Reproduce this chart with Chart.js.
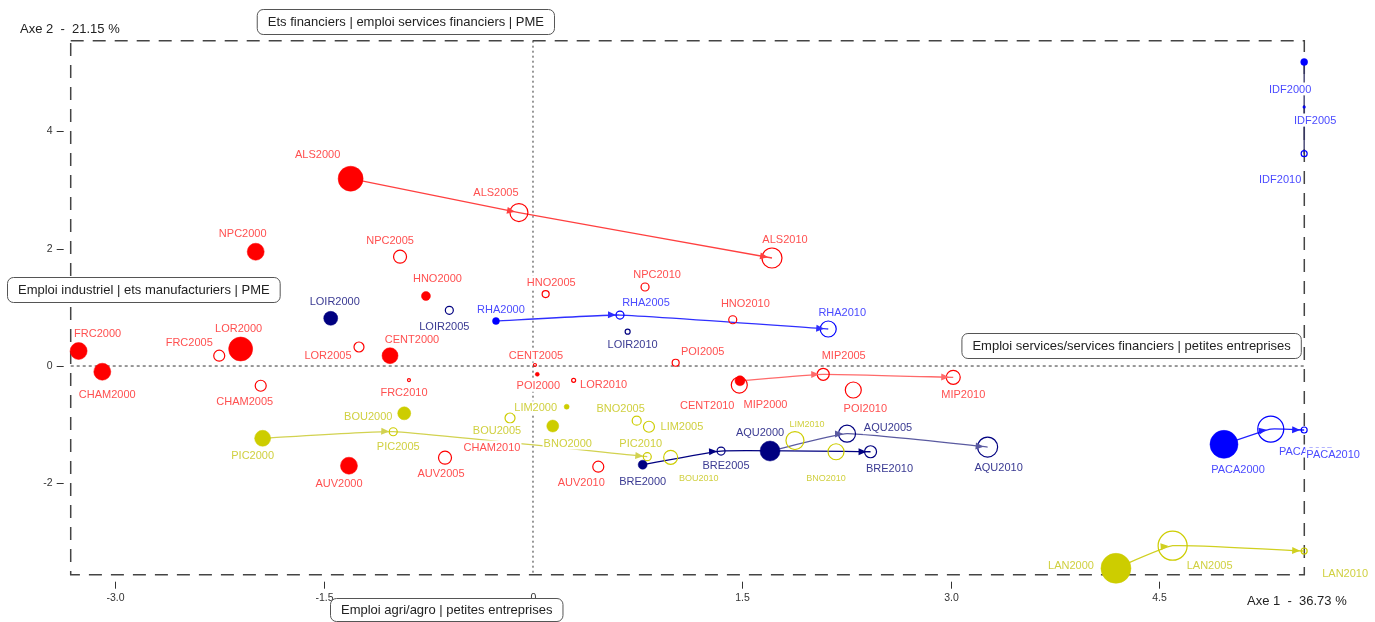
<!DOCTYPE html>
<html><head><meta charset="utf-8">
<script src="https://cdn.jsdelivr.net/npm/chart.js@4.4.1/dist/chart.umd.min.js"></script>
<style>html,body{margin:0;padding:0;background:#fff}#wrap{width:1375px;height:622px;position:relative}canvas{display:block}</style>
</head><body><div id="wrap"><canvas id="c" width="1375" height="622"></canvas></div>
<script>
// ---------- DATA ----------
const years = ['2000', '2005', '2010'];
const regions = ['ALS','NPC','HNO','FRC','LOR','CHAM','CENT','MIP','POI','AUV','IDF','RHA','PACA','LOIR','BRE','AQU','PIC','BOU','LIM','BNO','LAN'];
const groupOf = ['r','r','r','r','r','r','r','r','r','r','b','b','b','n','n','n','y','y','y','y','y'];
// Axe 1 coordinates (2000, 2005, 2010)
const axe1 = [
  [-1.310,-0.101,1.717],[-1.992,-0.955,0.805],[-0.769,0.091,1.435],[-3.264,-2.254,-0.891],
  [-2.100,-1.250,0.292],[-3.094,-1.956,-0.323],[-1.027,0.014,1.482],[1.487,2.085,3.019],
  [0.031,1.025,2.301],[-1.322,-0.632,0.469],[5.54,5.54,5.54],[-0.266,0.625,2.121],
  [4.964,5.300,5.54],[-1.453,-0.601,0.680],[0.788,1.351,2.425],[1.703,2.256,3.266],
  [-1.942,-1.004,0.821],[-0.925,-0.165,0.989],[0.242,0.833,1.882],[0.142,0.745,2.177],
  [4.188,4.595,5.54]
];
// Axe 2 coordinates (2000, 2005, 2010)
const axe2 = [
  [3.193,2.616,1.841],[1.948,1.863,1.347],[1.193,1.227,0.789],[0.256,0.176,-0.239],
  [0.290,0.324,-0.244],[-0.097,-0.336,-1.364],[0.176,0.017,-0.324],[-0.251,-0.141,-0.193],
  [-0.141,0.056,-0.409],[-1.699,-1.563,-1.716],[5.182,4.415,3.619],[0.767,0.869,0.631],
  [-1.335,-1.074,-1.091],[0.813,0.949,0.585],[-1.682,-1.449,-1.461],[-1.449,-1.154,-1.381],
  [-1.232,-1.120,-1.546],[-0.806,-0.886,-1.556],[-0.694,-1.035,-1.270],[-1.023,-0.932,-1.461],
  [-3.448,-3.063,-3.153]
];
// bubble weights (2000, 2005, 2010)
const poids = [
  [12.5,9,10],[8.5,6.5,4],[4.5,3.5,4],[8.5,5.5,1.5],[12,5,2],[8.5,5.5,1],[8,1.5,8],[5,6,7],
  [2,3.5,8],[8.5,6.5,5.5],[3.5,1,3],[3.5,4,8],[14,13,3],[7,4,2.5],[4.5,4,6],[10,8.5,10],
  [8,4,4],[6.5,5,7],[2.5,5.5,9],[6,4.5,8],[15,14.5,3]
];
const trajectories = ['ALS','MIP','RHA','PACA','IDF','BRE','AQU','PIC','LAN'];
const xTicks = [-3.0, -1.5, 0, 1.5, 3.0, 4.5];
const yTicks = [4, 2, 0, -2];
const axisTitleX = 'Axe 1  -  36.73 %';
const axisTitleY = 'Axe 2  -  21.15 %';
const boxTexts = [
  'Ets financiers | emploi services financiers | PME',
  'Emploi industriel | ets manufacturiers | PME',
  'Emploi services/services financiers | petites entreprises',
  'Emploi agri/agro | petites entreprises'
];

// ---------- STYLE / LAYOUT ----------
const pointColor = { r:'#FF0000', b:'#0000FF', n:'#000080', y:'#CDCD00' };
const labelColor = { r:'#FF5050', b:'#4B4BFF', n:'#3A3A92', y:'#D0D040' };
const lineColor = { ALS:'#FF4040', MIP:'#FF6A6A', RHA:'#2F2FFF', PACA:'#2020FF', IDF:'#333366',
                    BRE:'#000080', AQU:'#5A5AA0', PIC:'#D2D250', LAN:'#D0D020' };
const smallLabels = ['BOU2010','LIM2010','BNO2010'];
const labelOffsets = {
  ALS:[[-33,-24],[-23,-20],[13,-19]], NPC:[[-13,-18],[-10,-16],[12,-13]],
  HNO:[[11.5,-18],[5.6,-12],[12.6,-16.4]], FRC:[[19,-18],[-30,-13],[-5,12]],
  LOR:[[-2,-21],[-31,8],[30,4]], CHAM:[[5,23],[-16,16],[4,1]],
  CENT:[[22,-16],[1,-10],[-32,20]], MIP:[[25.5,24],[20.5,-19],[10,17]],
  POI:[[1,11],[27,-11],[12,18]], AUV:[[-10,18],[-4,16],[-17,16]],
  IDF:[[-14,27],[11,13],[-24,26]], RHA:[[5,-12],[26,-13],[14,-17]],
  PACA:[[14,25],[35,22],[29,24]], LOIR:[[4,-17],[-5,16],[5,13]],
  BRE:[[0,17],[5,14],[19,17]], AQU:[[-10,-19],[41,-6],[11,20]],
  PIC:[[-10,17],[5,15],[-6.5,-13]], BOU:[[-36,3],[-13,12],[28,21]],
  LIM:[[-31,1],[33,0],[12,-17]], BNO:[[15,17],[-16,-12],[-10,26]],
  LAN:[[-45,-3],[37,20],[41,22]]
};
const FONT = '"Liberation Sans", Arial, Helvetica, sans-serif';

// ---------- DATASETS ----------
const datasets = [];
regions.forEach((reg, i) => {
  const pts = years.map((yr, k) => ({ x: axe1[i][k], y: axe2[i][k], r: poids[i][k] }));
  const col = pointColor[groupOf[i]];
  if (trajectories.includes(reg)) {
    datasets.push({
      type: 'line', label: reg + '-traj', data: pts.map(p => ({x:p.x, y:p.y})),
      borderColor: lineColor[reg], borderWidth: 1.3, pointRadius: 0, pointHoverRadius: 0,
      tension: 0.12, fill: false, clip: false, order: 3, isPath: true
    });
  }
  datasets.push({
    type: 'bubble', label: reg, data: pts,
    backgroundColor: ctx => ctx.dataIndex === 0 ? col : 'rgba(0,0,0,0)',
    borderColor: col, borderWidth: ctx => ctx.dataIndex === 0 ? 0.5 : 1.2,
    hoverRadius: 0, clip: false, order: 1, regionIndex: i
  });
});

// ---------- PLUGIN ----------
const decor = {
  id: 'decor',
  beforeDatasetsDraw(chart) {
    const { ctx, chartArea: a, scales: { x, y } } = chart;
    ctx.save();
    ctx.strokeStyle = '#333'; ctx.lineWidth = 1;
    ctx.setLineDash([2, 3]);
    const x0 = x.getPixelForValue(0), y0 = y.getPixelForValue(0);
    ctx.beginPath(); ctx.moveTo(x0, a.top); ctx.lineTo(x0, a.bottom); ctx.stroke();
    ctx.setLineDash([3, 3]);
    ctx.beginPath(); ctx.moveTo(a.left, y0); ctx.lineTo(a.right, y0); ctx.stroke();
    ctx.setLineDash([13, 9]); ctx.strokeStyle = '#444'; ctx.lineWidth = 1.5;
    ctx.beginPath(); ctx.rect(a.left, a.top, a.right - a.left, a.bottom - a.top); ctx.stroke();
    ctx.setLineDash([]);
    ctx.strokeStyle = '#333'; ctx.lineWidth = 1; ctx.fillStyle = '#333';
    ctx.font = '10.5px ' + FONT; ctx.textBaseline = 'middle';
    ctx.textAlign = 'center';
    xTicks.forEach(v => {
      const px = Math.round(x.getPixelForValue(v)) + 0.5;
      if (v !== 0) { ctx.beginPath(); ctx.moveTo(px, a.bottom + 7); ctx.lineTo(px, a.bottom + 14); ctx.stroke(); }
      ctx.fillText(v === 0 ? '0' : v.toFixed(1), px, a.bottom + 23);
    });
    ctx.textAlign = 'right';
    yTicks.forEach(v => {
      const py = Math.round(y.getPixelForValue(v)) + 0.5;
      ctx.beginPath(); ctx.moveTo(a.left - 14, py); ctx.lineTo(a.left - 7, py); ctx.stroke();
      ctx.fillText(String(v), a.left - 18, py);
    });
    ctx.restore();
  },
  afterDatasetsDraw(chart) {
    const { ctx } = chart;
    ctx.save();
    chart.data.datasets.forEach((ds, di) => {
      if (!ds.isPath) return;
      const reg = ds.label.replace('-traj', '');
      if (reg === 'IDF') return;
      const els = chart.getDatasetMeta(di).data;
      for (let k = 1; k < els.length; k++) {
        const p = els[k], q = els[k - 1];
        let tx = p.x - (p.cp1x !== undefined ? p.cp1x : q.x);
        let ty = p.y - (p.cp1y !== undefined ? p.cp1y : q.y);
        let L = Math.hypot(tx, ty); if (L < 1e-6) { tx = p.x - q.x; ty = p.y - q.y; L = Math.hypot(tx, ty); }
        const ux = tx / L, uy = ty / L;
        const tipX = p.x - ux * 4, tipY = p.y - uy * 4;
        const len = 8, hw = 3.5;
        ctx.fillStyle = ds.borderColor;
        ctx.beginPath();
        ctx.moveTo(tipX, tipY);
        ctx.lineTo(tipX - ux * len - uy * hw, tipY - uy * len + ux * hw);
        ctx.lineTo(tipX - ux * len + uy * hw, tipY - uy * len - ux * hw);
        ctx.closePath(); ctx.fill();
      }
    });
    ctx.textAlign = 'center'; ctx.textBaseline = 'middle';
    chart.data.datasets.forEach((ds, di) => {
      if (ds.type !== 'bubble') return;
      const i = ds.regionIndex, reg = regions[i];
      chart.getDatasetMeta(di).data.forEach((el, k) => {
        const txt = reg + years[k];
        const fs = smallLabels.includes(txt) ? 9 : 11;
        ctx.font = fs + 'px ' + FONT;
        const off = labelOffsets[reg][k];
        const lx = el.x + off[0], ly = el.y + off[1];
        const w = ctx.measureText(txt).width;
        ctx.fillStyle = '#fff';
        ctx.fillRect(lx - w / 2 - 1, ly - fs / 2 - 1, w + 2, fs + 2);
        ctx.fillStyle = labelColor[groupOf[i]];
        ctx.fillText(txt, lx, ly + 0.5);
      });
    });
    ctx.restore();
  },
  afterDraw(chart) {
    const { ctx, chartArea: a, scales: { x } } = chart;
    ctx.save();
    ctx.font = '13px ' + FONT; ctx.textBaseline = 'middle'; ctx.textAlign = 'left';
    ctx.fillStyle = '#222';
    ctx.fillText(axisTitleY, 20, 29.5);
    ctx.fillText(axisTitleX, 1247, 601);
    const pad = 10.5;
    const x0 = x.getPixelForValue(0);
    const boxes = [
      { t: boxTexts[0], right: x0 + 21, top: 9, h: 25 },
      { t: boxTexts[1], left: 7, top: 277, h: 25 },
      { t: boxTexts[2], right: a.right - 3.5, top: 333, h: 25 },
      { t: boxTexts[3], left: 330, top: 598, h: 23 }
    ];
    boxes.forEach(b => {
      const w = ctx.measureText(b.t).width + 2 * pad;
      const left = b.left !== undefined ? b.left : b.right - w;
      ctx.beginPath();
      ctx.roundRect(left + 0.5, b.top + 0.5, w, b.h, 6);
      ctx.fillStyle = '#fff'; ctx.fill();
      ctx.strokeStyle = '#555'; ctx.lineWidth = 1; ctx.stroke();
      ctx.fillStyle = '#222';
      ctx.fillText(b.t, left + pad + 0.5, b.top + b.h / 2 + 1);
    });
    ctx.restore();
  }
};

new Chart(document.getElementById('c').getContext('2d'), {
  type: 'scatter',
  data: { datasets },
  options: {
    responsive: false, animation: false, devicePixelRatio: 1,
    layout: { padding: { left: 70.7, right: 70.7, top: 40.7, bottom: 47.3 } },
    scales: {
      x: { type: 'linear', min: -3.321, max: 5.541, display: false },
      y: { type: 'linear', min: -3.557, max: 5.545, display: false }
    },
    plugins: { legend: { display: false }, tooltip: { enabled: false } },
    events: []
  },
  plugins: [decor]
});
</script>
</body></html>
